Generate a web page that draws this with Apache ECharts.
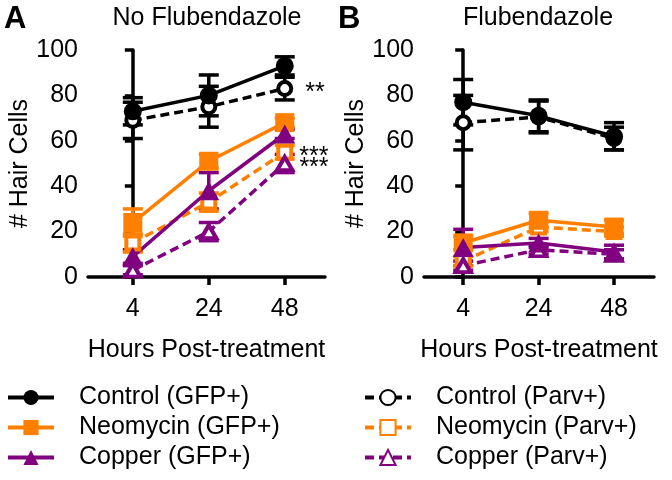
<!DOCTYPE html>
<html lang="en">

<head>
  <meta charset="UTF-8">
  <title>hair cells</title>
  <script src="https://cdn.jsdelivr.net/npm/echarts@6.0.0/dist/echarts.min.js"></script>
  <style>
    body { margin: 0; background: #fff; }
    #main { width: 672px; height: 480px; }
  </style>
</head>

<body>
  <div id="main"></div>
  <script>
    // x positions 0,1,2 are drawn with these tick labels
    let hours = ['4', '24', '48'];
    let xPos = [0, 1, 2];

    // panel A - no flubendazole
    let ctrlGfpA = [73, 80, 93];   let ctrlGfpErrA = [6, 9, 4];
    let ctrlParvA = [69, 75, 83];  let ctrlParvErrA = [8, 9, 5];
    let neoGfpA = [24, 51, 68];    let neoGfpErrA = [6, 3, 2];
    let neoParvA = [15, 33, 55];   let neoParvErrA = [4, 4, 3];
    let cuGfpA = [9, 38, 63];      let cuGfpErrA = [3, 8, 2];
    let cuParvA = [3, 20, 50];     let cuParvErrA = [2, 4, 4];

    // panel B - flubendazole
    let ctrlGfpB = [77, 71, 62];   let ctrlGfpErrB = [10, 7, 6];
    let ctrlParvB = [68, 70.5, 61]; let ctrlParvErrB = [12, 7, 5];
    let neoGfpB = [15, 25, 22];    let neoGfpErrB = [3, 3, 3];
    let neoParvB = [7, 22, 20];    let neoParvErrB = [2, 2, 2];
    let cuGfpB = [13, 15, 11];     let cuGfpErrB = [8, 2, 3];
    let cuParvB = [5, 12, 10];     let cuParvErrB = [2, 2, 2];

    // significance marks at 48 h (panel A)
    let starsCtrlParvA = ['', '', '**'];
    let starsNeoParvA = ['', '', '***'];
    let starsCuParvA = ['', '', '***'];

    let font = 'Liberation Sans, Arial, sans-serif';
    let black = '#000000', orange = '#ff8000', purple = '#800080';
    let lw = 3.5;

    // open symbols are drawn as white-filled shapes with a thick border
    let groups = [
      { name: 'Control (GFP+)', color: black, sym: 'circle', size: 18, open: false, A: [ctrlGfpA, ctrlGfpErrA], B: [ctrlGfpB, ctrlGfpErrB] },
      { name: 'Neomycin (GFP+)', color: orange, sym: 'rect', size: 19, open: false, A: [neoGfpA, neoGfpErrA], B: [neoGfpB, neoGfpErrB] },
      { name: 'Copper (GFP+)', color: purple, sym: 'triangle', size: [21, 19], open: false, A: [cuGfpA, cuGfpErrA], B: [cuGfpB, cuGfpErrB] },
      { name: 'Control (Parv+)', color: black, sym: 'circle', size: 13, open: true, A: [ctrlParvA, ctrlParvErrA], B: [ctrlParvB, ctrlParvErrB], stars: starsCtrlParvA, dist: 10 },
      { name: 'Neomycin (Parv+)', color: orange, sym: 'rect', size: 13, open: true, A: [neoParvA, neoParvErrA], B: [neoParvB, neoParvErrB], stars: starsNeoParvA, dist: 4 },
      { name: 'Copper (Parv+)', color: purple, sym: 'triangle', size: [15, 13], open: true, A: [cuParvA, cuParvErrA], B: [cuParvB, cuParvErrB], stars: starsCuParvA, dist: 3 }
    ];

    function errRender(params, api) {
      let x = api.value(0);
      let lo = api.coord([x, api.value(1)]);
      let hi = api.coord([x, api.value(2)]);
      let hw = 10;
      let style = { stroke: api.visual('color'), lineWidth: lw };
      return {
        type: 'group', children: [
          { type: 'line', shape: { x1: lo[0], y1: lo[1], x2: hi[0], y2: hi[1] }, style: style },
          { type: 'line', shape: { x1: lo[0] - hw, y1: lo[1], x2: lo[0] + hw, y2: lo[1] }, style: style },
          { type: 'line', shape: { x1: hi[0] - hw, y1: hi[1], x2: hi[0] + hw, y2: hi[1] }, style: style }
        ]
      };
    }

    let series = [];
    ['A', 'B'].forEach((p, gi) => {
      // error bars first, under the markers
      groups.forEach(g => {
        let vals = g[p][0], errs = g[p][1];
        series.push({
          type: 'custom',
          name: g.name + ' err',
          xAxisIndex: gi, yAxisIndex: gi,
          renderItem: errRender,
          itemStyle: { color: g.color },
          encode: { x: 0, y: [1, 2] },
          data: xPos.map((x, i) => [x, vals[i] - errs[i], vals[i] + errs[i]]),
          z: 2
        });
      });
      // dashed (Parv+) below solid (GFP+)
      groups.slice(3).concat(groups.slice(0, 3)).forEach(g => {
        let vals = g[p][0];
        let s = {
          type: 'line',
          name: g.name,
          xAxisIndex: gi, yAxisIndex: gi,
          symbol: g.sym,
          symbolSize: g.size,
          itemStyle: g.open
            ? { color: '#ffffff', borderColor: g.color, borderWidth: 4 }
            : { color: g.color },
          lineStyle: { color: g.color, width: lw, type: g.open ? [9, 5] : 'solid' },
          data: xPos.map((x, i) => [x, vals[i]]),
          z: 3
        };
        if (p === 'A' && g.stars) {
          let st = g.stars;
          s.label = {
            show: true, position: 'right', distance: g.dist + 2, offset: [0, 5],
            formatter: q => st[q.dataIndex],
            color: '#000', fontSize: 25, fontFamily: font
          };
        }
        series.push(s);
      });
    });

    function xAxisOf(i, min) {
      return {
        type: 'value', gridIndex: i, min: min, max: 2.53,
        name: 'Hours Post-treatment', nameLocation: 'middle', nameGap: 61,
        nameTextStyle: { color: '#000', fontSize: 25, fontFamily: font },
        axisLine: { lineStyle: { color: '#000', width: lw } },
        axisTick: { length: 8, lineStyle: { color: '#000', width: lw }, customValues: xPos },
        axisLabel: {
          color: '#000', fontSize: 25, fontFamily: font, margin: 20,
          customValues: xPos, formatter: v => hours[Math.round(v)]
        },
        splitLine: { show: false }
      };
    }

    function yAxisOf(i) {
      return {
        type: 'value', gridIndex: i, min: 0, max: 100, interval: 20,
        name: '# Hair Cells', nameLocation: 'middle', nameGap: 53,
        nameTextStyle: { color: '#000', fontSize: 25, fontFamily: font },
        axisLine: { show: true, lineStyle: { color: '#000', width: lw } },
        axisTick: { show: true, length: 8, lineStyle: { color: '#000', width: lw } },
        axisLabel: { color: '#000', fontSize: 25, fontFamily: font, margin: 10 },
        splitLine: { show: false }
      };
    }

    function legendOf(left, names) {
      return {
        orient: 'vertical', left: left, top: 385, padding: 0,
        itemWidth: 46, itemHeight: 19, itemGap: 5,
        data: names,
        selectedMode: false,
        lineStyle: { width: 4 },
        textStyle: { color: '#000', fontSize: 25, fontFamily: font, lineHeight: 25, padding: [0, 0, 0, 20] }
      };
    }

    let chart = echarts.init(document.getElementById('main'));
    chart.setOption({
      animation: false,
      grid: [
        { left: 88, top: 50, width: 237, height: 227 },
        { left: 424, top: 50, width: 230, height: 227 }
      ],
      xAxis: [xAxisOf(0, -0.59), xAxisOf(1, -0.52)],
      yAxis: [yAxisOf(0), yAxisOf(1)],
      legend: [
        legendOf(6, groups.slice(0, 3).map(g => g.name)),
        legendOf(363, groups.slice(3).map(g => g.name))
      ],
      graphic: [
        { type: 'text', left: 4, top: 4, style: { text: 'A', font: 'bold 31px ' + font, fill: '#000' } },
        { type: 'text', left: 338, top: 4, style: { text: 'B', font: 'bold 31px ' + font, fill: '#000' } },
        { type: 'text', x: 207, y: 18, style: { text: 'No Flubendazole', font: '25px ' + font, fill: '#000', textAlign: 'center', textVerticalAlign: 'middle' } },
        { type: 'text', x: 538, y: 18, style: { text: 'Flubendazole', font: '25px ' + font, fill: '#000', textAlign: 'center', textVerticalAlign: 'middle' } }
      ],
      series: series
    });
  </script>
</body>

</html>
